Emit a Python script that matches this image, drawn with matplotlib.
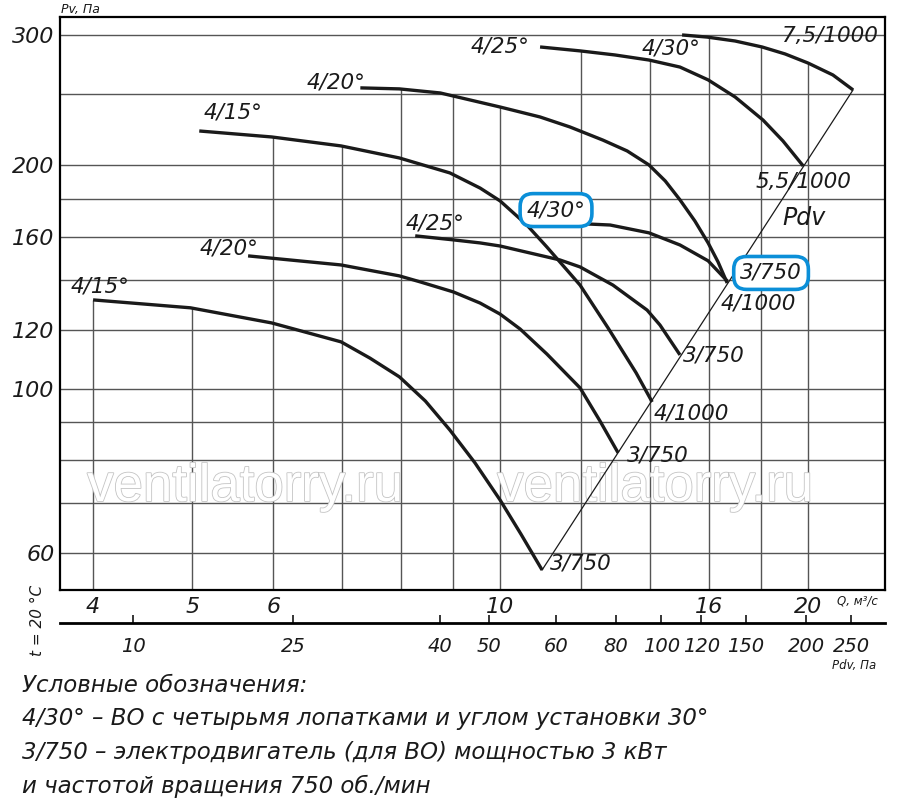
import numpy as np
import matplotlib.pyplot as plt
from matplotlib import font_manager, patheffects
from matplotlib.ticker import NullLocator

# Fan curves: Q, m3/s and Pv, Pa
l15_q = [4.00, 4.98, 5.98, 6.99, 7.46, 7.97, 8.45, 8.93, 9.45, 10.0, 10.48, 10.99]
l15_p = [131.7, 128.5, 122.6, 115.6, 109.9, 103.7, 96.2, 87.9, 79.35, 70.7, 63.6, 56.9]

l20_q = [5.67, 6.99, 7.97, 8.35, 9.00, 9.56, 10.0, 10.46, 11.11, 11.97, 12.52, 13.04]
l20_p = [151.0, 146.8, 141.9, 139.3, 135.0, 130.4, 126.0, 120.3, 111.3, 100.2, 90.4, 81.9]

l25_q = [8.26, 9.00, 9.56, 10.0, 11.44, 11.97, 12.89, 13.92, 14.33, 14.99]
l25_p = [160.7, 158.7, 157.2, 155.7, 149.1, 145.9, 137.9, 127.6, 121.8, 111.0]

l30_q = [11.65, 12.81, 13.98, 14.99, 15.97, 16.67]
l30_p = [167.2, 166.2, 162.2, 156.2, 148.7, 139.7]

u15_q = [5.08, 5.98, 6.99, 7.97, 8.93, 9.56, 10.0, 10.62, 11.11, 11.97, 12.75, 13.58, 14.08]
u15_p = [222.6, 218.5, 212.5, 204.7, 195.4, 186.4, 179.1, 166.2, 155.2, 137.9, 120.7, 105.0, 95.9]

u20_q = [7.30, 7.97, 8.74, 10.0, 10.94, 11.70, 12.60, 13.31, 13.98, 14.50, 14.99,
         15.50, 15.97, 16.33, 16.67]
u20_p = [254.5, 253.7, 250.5, 239.8, 232.5, 225.4, 216.4, 209.2, 200.3, 190.6, 179.7,
         168.3, 157.2, 148.2, 138.8]

u25_q = [10.94, 11.97, 12.95, 13.98, 14.99, 15.97, 16.97, 18.07, 18.90, 19.78]
u25_p = [289.0, 285.5, 281.9, 277.5, 271.5, 260.9, 247.4, 230.3, 215.8, 199.7]

u30_q = [15.06, 15.94, 16.97, 18.03, 18.99, 20.0, 21.15, 22.13]
u30_p = [300.0, 298.0, 294.4, 289.0, 282.8, 274.9, 264.9, 252.9]

# line through the curve end points (Pdv)
pdv_line_q = [10.99, 22.13]
pdv_line_p = [56.9, 252.9]

# grid and axis ticks
q_grid = [4, 5, 6, 7, 8, 9, 10, 12, 14, 16, 18, 20]
p_grid = [60, 70, 80, 90, 100, 120, 140, 160, 180, 200, 250, 300]
q_ticks = [4, 5, 6, 10, 16, 20]
p_ticks = [60, 100, 120, 160, 200, 300]

# dynamic pressure scale: Pdv value and the Q where its tick sits
pdv_ticks = [10, 25, 40, 50, 60, 80, 100, 120, 150, 200, 250]
pdv_tick_q = [4.377, 6.276, 8.737, 9.755, 11.34, 12.98, 14.37, 15.72, 17.39, 19.91, 22.03]

curves = [(l15_q, l15_p), (l20_q, l20_p), (l25_q, l25_p), (l30_q, l30_p),
          (u15_q, u15_p), (u20_q, u20_p), (u25_q, u25_p), (u30_q, u30_p)]

BLUE = "#0b8fd8"
INK = "#1a1a1a"
GRID = "#555555"
names = {f.name for f in font_manager.fontManager.ttflist}
NARROW = "Liberation Sans Narrow" if "Liberation Sans Narrow" in names else "DejaVu Sans"
LBL = dict(family="DejaVu Sans", style="italic", fontsize=15.5, color=INK)

fig = plt.figure(figsize=(9, 8.07), dpi=100)
W, H = 900, 807
ax = fig.add_axes([60 / W, 1 - 590 / H, 825 / W, 573 / H])
ax.set_xscale("log")
ax.set_yscale("log")
xlim = (3.713, 23.78)
ylim = (53.47, 317.2)
ax.set_xlim(*xlim)
ax.set_ylim(*ylim)

# horizontal grid across, vertical grid only up to the highest curve
ax.hlines(p_grid, xlim[0], xlim[1], color=GRID, lw=1.0, zorder=1)
for q in q_grid:
    tops = []
    for cq, cp in curves:
        if cq[0] <= q <= cq[-1]:
            tops.append(10 ** np.interp(np.log10(q), np.log10(cq), np.log10(cp)))
    top = max(tops) if tops else ylim[1]
    ax.vlines(q, ylim[0], top, color=GRID, lw=1.0, zorder=1)

for cq, cp in curves:
    ax.plot(cq, cp, color=INK, lw=2.4, solid_capstyle="butt",
            solid_joinstyle="round", zorder=3)
ax.plot(pdv_line_q, pdv_line_p, color=INK, lw=0.9, zorder=3)

# watermark
for wx in (245, 655):
    ax.text(wx / W, 1 - 487 / H, "ventilatorry.ru", transform=fig.transFigure,
            family="Liberation Sans", fontsize=38, color="white",
            ha="center", va="center", zorder=2,
            path_effects=[patheffects.withStroke(linewidth=1.2, foreground="#c4c4c4")])

# curve labels (left edge, vertical centre)
start_labels = [("4/15°", 3.80, 137.1), ("4/20°", 5.08, 154.3),
                ("4/15°", 5.125, 236.1), ("4/20°", 6.475, 258.4),
                ("4/25°", 8.09, 167.2), ("4/25°", 9.35, 289.0),
                ("4/30°", 13.76, 287.2)]
end_labels = [("7,5/1000", 18.86, 298.9), ("5,5/1000", 17.75, 189.9),
              ("4/1000", 16.41, 130.1), ("3/750", 15.10, 110.7),
              ("4/1000", 14.11, 92.4), ("3/750", 13.31, 81.1),
              ("3/750", 11.19, 58.0)]
for s, x, y in start_labels + end_labels:
    ax.text(x, y, s, ha="left", va="center", zorder=4, **LBL)
ax.text(18.86, 169.9, "Pdv", ha="left", va="center", zorder=4,
        family="DejaVu Sans", style="italic", fontsize=17, color=INK)

# highlighted labels
for s, x, y in [("4/30°", 11.34, 174.1), ("3/750", 18.40, 143.2)]:
    ax.text(x, y, s, ha="center", va="center", zorder=5, **LBL,
            bbox=dict(boxstyle="round,pad=0.3,rounding_size=0.6",
                      fc="white", ec=BLUE, lw=2.6))

# axes styling
for sp in ax.spines.values():
    sp.set_linewidth(1.6)
ax.xaxis.set_minor_locator(NullLocator())
ax.yaxis.set_minor_locator(NullLocator())
ax.set_xticks(q_ticks, [str(v) for v in q_ticks], family="DejaVu Sans",
              style="italic", fontsize=16, color=INK)
ax.set_yticks(p_ticks, [str(v) for v in p_ticks], family="DejaVu Sans",
              style="italic", fontsize=16, color=INK)
ax.tick_params(length=0)
ax.tick_params(axis="x", pad=5)
ax.tick_params(axis="y", pad=4)

# Pdv scale under the Q axis
ax2 = fig.add_axes([60 / W, 1 - 623 / H, 825 / W, 0.0001])
ax2.set_xscale("log")
ax2.set_xlim(*xlim)
ax2.patch.set_visible(False)
for side in ("top", "left", "right"):
    ax2.spines[side].set_visible(False)
ax2.spines["bottom"].set_linewidth(2.0)
ax2.set_yticks([])
ax2.xaxis.set_minor_locator(NullLocator())
ax2.set_xticks(pdv_tick_q, [str(v) for v in pdv_ticks], family="DejaVu Sans",
               style="italic", fontsize=14, color=INK)
ax2.tick_params(axis="x", direction="in", length=6, width=1.1, pad=10)

# axis names
small = dict(family=NARROW, style="italic", color=INK)
fig.text(61 / W, 1 - 10 / H, "Pv, Па", fontsize=9, ha="left", va="center", **small)
fig.text(837 / W, 1 - 601 / H, "Q, м³/с", fontsize=8.5, ha="left", va="center", **small)
fig.text(832 / W, 1 - 666 / H, "Pdv, Па", fontsize=8.5, ha="left", va="center", **small)
fig.text(37 / W, 1 - 620 / H, "t = 20 °C", fontsize=11, rotation=90,
         ha="center", va="center", **small)

# legend notes
notes = ["Условные обозначения:",
         "4/30° – ВО с четырьмя лопатками и углом установки 30°",
         "3/750 – электродвигатель (для ВО) мощностью 3 кВт",
         "и частотой вращения 750 об./мин"]
note_size = 19.5 if NARROW != "DejaVu Sans" else 16.5
for i, line in enumerate(notes):
    fig.text(22 / W, 1 - (685 + 33.7 * i) / H, line, fontsize=note_size,
             ha="left", va="center", **small)

fig.savefig("out.png", dpi=100)
